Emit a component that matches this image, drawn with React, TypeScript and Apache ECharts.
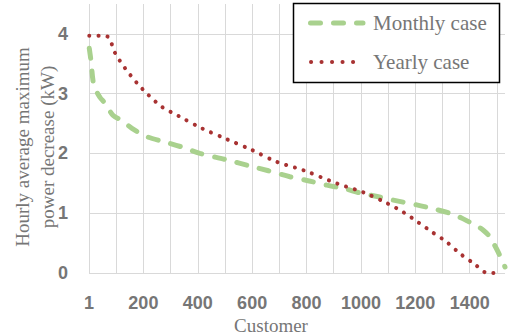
import React, { useEffect, useRef } from "react";
import * as echarts from "echarts";

const monthlyX = [1, 7, 18, 40, 59, 88, 125, 158, 213, 272, 340, 408, 500, 592, 660, 739, 810, 875, 940, 996, 1060, 1118, 1205, 1270, 1327, 1370, 1400, 1430, 1449, 1470, 1485, 1505, 1530];
const monthlyY = [3.76, 3.56, 3.14, 2.94, 2.84, 2.64, 2.54, 2.42, 2.28, 2.2, 2.11, 2.0, 1.9, 1.79, 1.71, 1.61, 1.54, 1.47, 1.41, 1.34, 1.28, 1.22, 1.14, 1.07, 1.0, 0.92, 0.85, 0.78, 0.72, 0.63, 0.52, 0.35, 0.1];
const yearlyX = [1, 40, 70, 96, 132, 176, 218, 268, 328, 415, 506, 598, 690, 788, 910, 1009, 1095, 1155, 1210, 1260, 1315, 1363, 1418, 1466, 1503];
const yearlyY = [3.97, 3.97, 3.95, 3.68, 3.43, 3.18, 2.98, 2.78, 2.63, 2.42, 2.24, 2.06, 1.86, 1.72, 1.5, 1.35, 1.17, 1.02, 0.85, 0.69, 0.52, 0.33, 0.15, 0.0, 0.0];
const xTicks = [1, 200, 400, 600, 800, 1000, 1200, 1400];
const yTicks = [0, 1, 2, 3, 4];
const seriesNames = ["Monthly case", "Yearly case"];
const yAxisTitle = ["Hourly average maximum", "power decrease (kW)"];
const xAxisTitle = "Customer";

const GREEN = "#A9D18E";
const RED = "#A83232";
const GRAY = "#767676";
const SERIF = "'Liberation Serif', 'Times New Roman', serif";
const SANS = "'Liberation Sans', Arial, sans-serif";

export default function App() {
  const ref = useRef<HTMLDivElement>(null);
  useEffect(() => {
    if (!ref.current) return;
    const chart = echarts.init(ref.current, undefined, { renderer: "svg" });
    const monthly = monthlyX.map((x, i) => [x, monthlyY[i]]);
    const yearly = yearlyX.map((x, i) => [x, yearlyY[i]]);
    chart.setOption({
      animation: false,
      grid: { left: 89, right: 6, top: 4, bottom: 63, containLabel: false },
      xAxis: {
        type: "value",
        min: 0,
        max: 1530,
        interval: 100,
        axisLine: { show: false },
        axisTick: { show: false },
        splitLine: { show: true, showMaxLine: false, lineStyle: { color: "#D9D9D9", width: 1 } },
        axisLabel: {
          margin: 21,
          color: GRAY,
          fontFamily: SANS,
          fontWeight: "bold",
          fontSize: 18,
          showMaxLabel: false,
          formatter: (v: number) => {
            if (v === 0) return String(xTicks[0]);
            return xTicks.includes(v) ? String(v) : "";
          },
        },
      },
      yAxis: {
        type: "value",
        min: 0,
        max: 4.5,
        interval: 1,
        axisLine: { show: false },
        axisTick: { show: false },
        splitLine: { show: true, showMaxLine: false, lineStyle: { color: "#D9D9D9", width: 1 } },
        axisLabel: {
          margin: 21,
          color: GRAY,
          fontFamily: SANS,
          fontWeight: "bold",
          fontSize: 18,
          showMaxLabel: false,
          formatter: (v: number) => (yTicks.includes(v) ? String(v) : ""),
        },
      },
      series: [
        {
          name: seriesNames[0],
          type: "line",
          data: monthly,
          smooth: 0.3,
          showSymbol: false,
          lineStyle: { color: GREEN, width: 5, type: [10, 13], cap: "round" },
          z: 2,
        },
        {
          name: seriesNames[1],
          type: "line",
          data: yearly,
          smooth: 0.3,
          showSymbol: false,
          lineStyle: { color: RED, width: 4, type: [0.1, 9], cap: "round" },
          z: 3,
        },
      ],
      graphic: [
        {
          type: "text",
          x: 22,
          y: 147,
          rotation: Math.PI / 2,
          style: {
            text: yAxisTitle[0],
            fill: GRAY,
            font: `19px ${SERIF}`,
            align: "center",
            verticalAlign: "middle",
          },
        },
        {
          type: "text",
          x: 47,
          y: 147,
          rotation: Math.PI / 2,
          style: {
            text: yAxisTitle[1],
            fill: GRAY,
            font: `19px ${SERIF}`,
            align: "center",
            verticalAlign: "middle",
          },
        },
        {
          type: "text",
          x: 271,
          y: 325,
          style: {
            text: xAxisTitle,
            fill: GRAY,
            font: `19px ${SERIF}`,
            align: "center",
            verticalAlign: "middle",
          },
        },
        {
          type: "rect",
          shape: { x: 293.5, y: 3.5, width: 206, height: 79 },
          style: { fill: "#fff", stroke: "#000", lineWidth: 1.5 },
          z: 10,
        },
        {
          type: "line",
          shape: { x1: 310.5, y1: 23, x2: 363, y2: 23 },
          style: { stroke: GREEN, lineWidth: 5, lineDash: [10, 13], lineCap: "round" },
          z: 11,
        },
        {
          type: "line",
          shape: { x1: 311, y1: 62, x2: 363, y2: 62 },
          style: { stroke: RED, lineWidth: 4, lineDash: [0.1, 10.4], lineCap: "round" },
          z: 11,
        },
        {
          type: "text",
          x: 373,
          y: 23,
          style: { text: seriesNames[0], fill: GRAY, font: `21px ${SERIF}`, verticalAlign: "middle" },
          z: 11,
        },
        {
          type: "text",
          x: 373,
          y: 62,
          style: { text: seriesNames[1], fill: GRAY, font: `21px ${SERIF}`, verticalAlign: "middle" },
          z: 11,
        },
      ],
    });
    return () => chart.dispose();
  }, []);
  return <div ref={ref} style={{ width: 511, height: 336, position: "absolute", left: 0, top: 0 }} />;
}
